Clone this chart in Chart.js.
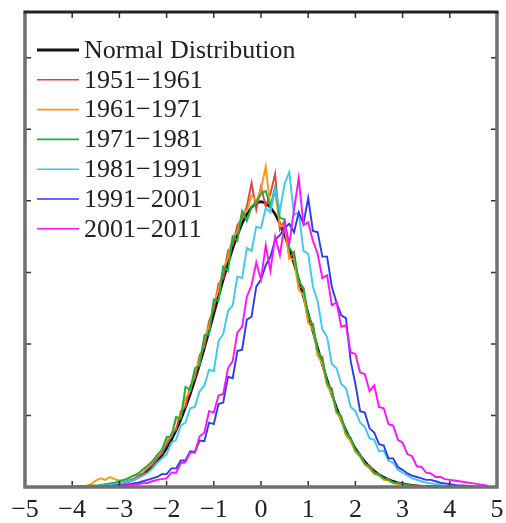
<!DOCTYPE html>
<html>
<head>
<meta charset="utf-8">
<script src="https://cdn.jsdelivr.net/npm/chart.js@4.4.1/dist/chart.umd.min.js"></script>
<style>
html,body{margin:0;padding:0;background:#fff;}
#wrap{width:506px;height:523px;position:relative;}
</style>
</head>
<body>
<div id="wrap"><canvas id="c" width="506" height="523"></canvas></div>
<script>
// bin centres (standardised anomaly)
const xs = [
-4.0,-3.9,-3.8,-3.7,-3.6,-3.5,-3.4,-3.3,-3.2,-3.1,
-3.0,-2.9,-2.8,-2.7,-2.6,-2.5,-2.4,-2.3,-2.2,-2.1,
-2.0,-1.9,-1.8,-1.7,-1.6,-1.5,-1.4,-1.3,-1.2,-1.1,
-1.0,-0.9,-0.8,-0.7,-0.6,-0.5,-0.4,-0.3,-0.2,-0.1,
0.0,0.1,0.2,0.3,0.4,0.5,0.6,0.7,0.8,0.9,
1.0,1.1,1.2,1.3,1.4,1.5,1.6,1.7,1.8,1.9,
2.0,2.1,2.2,2.3,2.4,2.5,2.6,2.7,2.8,2.9,
3.0,3.1,3.2,3.3,3.4,3.5,3.6,3.7,3.8,3.9,
4.0,4.1,4.2,4.3,4.4,4.5,4.6,4.7,4.8
];
const normalDist = [
0.0001,0.0002,0.0003,0.0004,0.0006,0.0009,0.0012,0.0017,0.0024,0.0033,
0.0044,0.0060,0.0079,0.0104,0.0136,0.0175,0.0224,0.0283,0.0355,0.0440,
0.0540,0.0656,0.0790,0.0940,0.1109,0.1295,0.1497,0.1714,0.1942,0.2179,
0.2420,0.2661,0.2897,0.3123,0.3332,0.3521,0.3683,0.3814,0.3910,0.3970,
0.3989,0.3970,0.3910,0.3814,0.3683,0.3521,0.3332,0.3123,0.2897,0.2661,
0.2420,0.2179,0.1942,0.1714,0.1497,0.1295,0.1109,0.0940,0.0790,0.0656,
0.0540,0.0440,0.0355,0.0283,0.0224,0.0175,0.0136,0.0104,0.0079,0.0060,
0.0044,0.0033,0.0024,0.0017,0.0012,0.0009,0.0006,0.0004,0.0003,0.0002,
0.0001,0,0,0,0,0,0,0,0
];
const d1951 = [
0.000,0.000,0.001,0.000,0.001,0.001,0.002,0.001,0.003,0.004,
0.005,0.006,0.009,0.011,0.016,0.019,0.026,0.031,0.040,0.047,
0.060,0.074,0.080,0.106,0.112,0.141,0.152,0.184,0.196,0.232,
0.248,0.284,0.292,0.330,0.338,0.366,0.376,0.392,0.425,0.388,
0.420,0.392,0.410,0.438,0.360,0.372,0.320,0.328,0.280,0.278,
0.230,0.228,0.186,0.182,0.142,0.138,0.104,0.099,0.074,0.069,
0.050,0.046,0.032,0.030,0.020,0.018,0.011,0.011,0.006,0.006,
0.004,0.003,0.002,0.002,0.001,0.001,0.000,0.001,0.000,0.000,
0,0,0,0,0,0,0,0,0
];
const d1961 = [
0.000,0.001,0.000,0.002,0.004,0.009,0.012,0.010,0.014,0.011,
0.009,0.010,0.013,0.016,0.018,0.024,0.028,0.036,0.043,0.052,
0.066,0.070,0.095,0.100,0.124,0.134,0.162,0.176,0.208,0.224,
0.258,0.276,0.306,0.320,0.350,0.356,0.384,0.386,0.408,0.400,
0.416,0.448,0.390,0.414,0.366,0.364,0.320,0.318,0.276,0.268,
0.230,0.220,0.184,0.172,0.142,0.130,0.104,0.094,0.072,0.064,
0.049,0.042,0.031,0.026,0.018,0.016,0.010,0.009,0.005,0.004,
0.003,0.002,0.001,0.001,0.001,0,0,0,0,0,
0,0,0,0,0,0,0,0,0
];
const d1971 = [
0.000,0.000,0.001,0.001,0.002,0.002,0.003,0.004,0.005,0.006,
0.008,0.010,0.012,0.016,0.019,0.025,0.030,0.036,0.045,0.052,
0.070,0.070,0.098,0.096,0.140,0.136,0.166,0.170,0.212,0.214,
0.262,0.260,0.308,0.302,0.350,0.344,0.386,0.372,0.392,0.398,
0.410,0.414,0.392,0.420,0.376,0.374,0.334,0.326,0.288,0.278,
0.240,0.226,0.190,0.178,0.146,0.134,0.106,0.098,0.076,0.068,
0.052,0.044,0.033,0.028,0.020,0.017,0.012,0.010,0.006,0.005,
0.004,0.003,0.002,0.001,0.001,0,0,0,0,0,
0,0,0,0,0,0,0,0,0
];
const d1981 = [
0.000,0.000,0.000,0.001,0.001,0.001,0.002,0.002,0.003,0.004,
0.005,0.006,0.008,0.010,0.013,0.016,0.020,0.026,0.034,0.040,
0.046,0.062,0.066,0.086,0.090,0.110,0.112,0.134,0.142,0.164,
0.162,0.204,0.214,0.246,0.254,0.294,0.292,0.334,0.330,0.364,
0.362,0.390,0.384,0.418,0.386,0.424,0.440,0.380,0.384,0.330,
0.326,0.280,0.260,0.220,0.210,0.172,0.166,0.144,0.138,0.112,
0.106,0.090,0.084,0.068,0.066,0.050,0.051,0.037,0.034,0.024,
0.020,0.016,0.012,0.010,0.008,0.006,0.005,0.004,0.003,0.002,
0.002,0.001,0.001,0.001,0,0,0,0,0
];
const d1991 = [
0,0,0,0,0,0.001,0.000,0.001,0.001,0.002,
0.002,0.003,0.004,0.005,0.006,0.008,0.010,0.012,0.014,0.018,
0.018,0.026,0.026,0.037,0.037,0.050,0.049,0.065,0.064,0.090,
0.088,0.116,0.118,0.154,0.152,0.190,0.192,0.234,0.238,0.280,
0.290,0.310,0.322,0.346,0.352,0.362,0.368,0.356,0.384,0.368,
0.404,0.358,0.356,0.322,0.322,0.280,0.258,0.240,0.236,0.176,
0.144,0.106,0.104,0.082,0.076,0.060,0.058,0.040,0.040,0.028,
0.024,0.019,0.016,0.014,0.012,0.010,0.010,0.008,0.006,0.005,
0.004,0.003,0.002,0.002,0.001,0.001,0,0,0
];
const d2001 = [
0,0,0,0,0,0,0.001,0,0.001,0.001,
0.002,0.002,0.003,0.003,0.004,0.005,0.006,0.008,0.010,0.011,
0.012,0.020,0.020,0.033,0.035,0.048,0.048,0.071,0.076,0.106,
0.104,0.128,0.130,0.166,0.176,0.216,0.224,0.266,0.282,0.314,
0.290,0.338,0.302,0.350,0.324,0.368,0.340,0.388,0.432,0.366,
0.370,0.344,0.326,0.292,0.296,0.254,0.258,0.224,0.226,0.188,
0.186,0.160,0.158,0.134,0.142,0.112,0.110,0.088,0.086,0.066,
0.062,0.046,0.043,0.029,0.028,0.020,0.019,0.014,0.014,0.011,
0.010,0.009,0.008,0.007,0.006,0.005,0.004,0.003,0.002
];
const seriesLabels = ['Normal Distribution','1951\u22121961','1961\u22121971','1971\u22121981','1981\u22121991','1991\u22122001','2001\u22122011'];
const seriesValues = [normalDist,d1951,d1961,d1971,d1981,d1991,d2001];
const seriesColors = ['#111111','#dd4444','#ff9511','#14b43c','#3cc8f0','#2a3cf0','#ff11ff'];
const seriesWidths = [2.6,1.9,1.9,1.9,1.9,1.9,1.9];
const xTicks = [-5,-4,-3,-2,-1,0,1,2,3,4,5];

const FONT = '"Liberation Serif","Times New Roman",serif';

const datasets = seriesValues.map((vals,k)=>({
  label: seriesLabels[k],
  data: xs.map((x,i)=>({x:x,y:vals[i]})),
  borderColor: seriesColors[k],
  backgroundColor: seriesColors[k],
  borderWidth: seriesWidths[k],
  pointRadius: 0,
  tension: 0,
  fill: false,
  order: k===0 ? 10 : 7-k
}));

const framePlugin = {
  id:'frame',
  afterDatasetsDraw(chart){
    const {ctx, chartArea:a, scales} = chart;
    ctx.save();
    ctx.strokeStyle = '#333';
    ctx.lineWidth = 1.5;
    const tl = 6;
    xTicks.forEach(v=>{
      if (v===-5 || v===5) return;
      const px = scales.x.getPixelForValue(v);
      ctx.beginPath();
      ctx.moveTo(px,a.bottom); ctx.lineTo(px,a.bottom-tl);
      ctx.moveTo(px,a.top); ctx.lineTo(px,a.top+tl);
      ctx.stroke();
    });
    [0.1,0.2,0.3,0.4,0.5,0.6].forEach(v=>{
      const py = scales.y.getPixelForValue(v);
      ctx.beginPath();
      ctx.moveTo(a.left,py); ctx.lineTo(a.left+tl,py);
      ctx.moveTo(a.right,py); ctx.lineTo(a.right-tl,py);
      ctx.stroke();
    });
    ctx.lineWidth = 3.5;
    ctx.strokeStyle = '#707070';
    ctx.beginPath();
    ctx.moveTo(a.left,a.top); ctx.lineTo(a.left,a.bottom); ctx.lineTo(a.right,a.bottom); ctx.lineTo(a.right,a.top);
    ctx.stroke();
    ctx.strokeStyle = '#222';
    ctx.lineWidth = 3;
    ctx.beginPath();
    ctx.moveTo(a.left-1.5,a.top); ctx.lineTo(a.right+1.5,a.top);
    ctx.stroke();
    const lx0 = a.left+12, lx1 = a.left+54, tx = a.left+59;
    ctx.font = '26px '+FONT;
    ctx.textBaseline = 'middle';
    ctx.textAlign = 'left';
    chart.data.datasets.forEach((ds,k)=>{
      const y = a.top + 38 + k*29.8;
      ctx.strokeStyle = ds.borderColor;
      ctx.lineWidth = k===0 ? 3 : 1.6;
      ctx.beginPath(); ctx.moveTo(lx0,y); ctx.lineTo(lx1,y); ctx.stroke();
      ctx.fillStyle = '#222';
      ctx.fillText(ds.label, tx, y+1);
    });
    ctx.restore();
  }
};

new Chart(document.getElementById('c'), {
  type:'line',
  data:{datasets:datasets},
  options:{
    responsive:false,
    animation:false,
    layout:{padding:{left:25,right:9,top:12,bottom:0}},
    plugins:{legend:{display:false},tooltip:{enabled:false}},
    scales:{
      x:{
        type:'linear', min:-5, max:5,
        grid:{display:false},
        border:{display:false},
        afterBuildTicks(s){ s.ticks = xTicks.map(v=>({value:v})); },
        afterFit(s){ s.height = 36; },
        ticks:{
          color:'#222', padding:0, maxRotation:0, autoSkip:false,
          font:{family:FONT, size:26},
          callback:(v)=> v<0 ? '\u2212'+Math.abs(v) : String(v)
        }
      },
      y:{
        type:'linear', min:0, max:0.664,
        grid:{display:false},
        border:{display:false},
        ticks:{display:false},
        afterFit(s){ s.width = 0; }
      }
    }
  },
  plugins:[framePlugin]
});
</script>
</body>
</html>
